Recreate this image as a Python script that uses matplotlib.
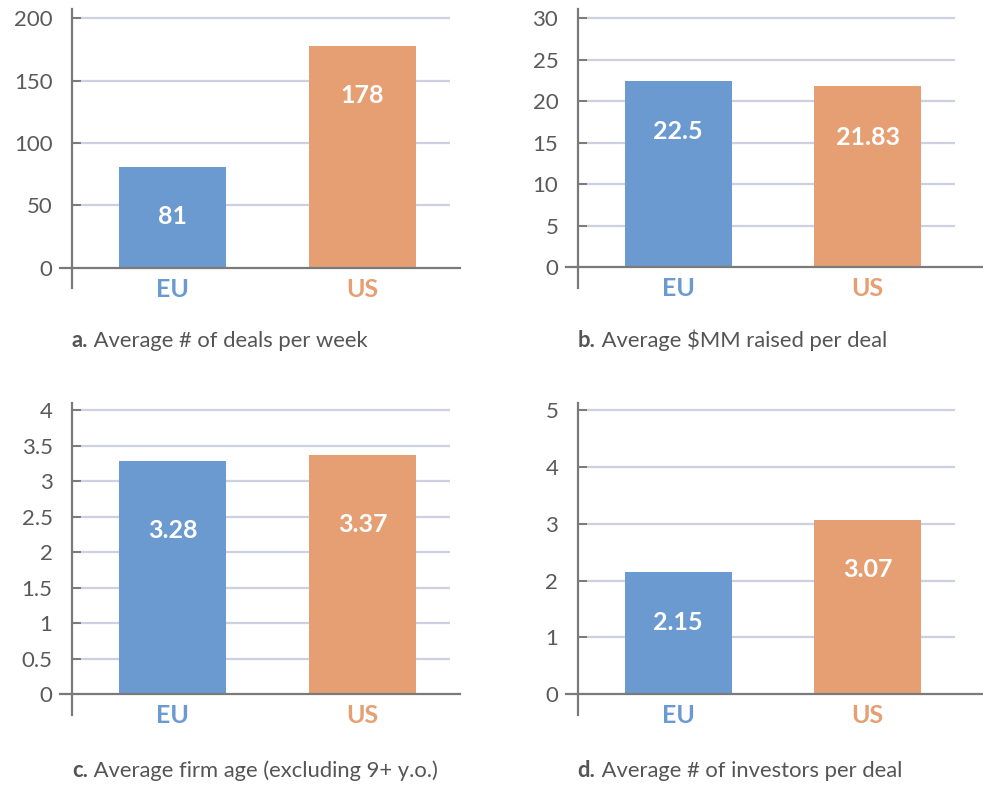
import numpy as np
import matplotlib
matplotlib.use("Agg")
import matplotlib.pyplot as plt
import matplotlib.transforms as mtransforms

plt.rcParams['font.family'] = ['Lato', 'DejaVu Sans']

# dados
categories = ["EU", "US"]
deals_per_week = [81, 178]
mm_raised = [22.5, 21.83]
firm_age = [3.28, 3.37]
investors = [2.15, 3.07]

deals_labels = ["81", "178"]
raised_labels = ["22.5", "21.83"]
age_labels = ["3.28", "3.37"]
investor_labels = ["2.15", "3.07"]

deals_ticks = [0, 50, 100, 150, 200]
raised_ticks = [0, 5, 10, 15, 20, 25, 30]
age_ticks = [0, 0.5, 1, 1.5, 2, 2.5, 3, 3.5, 4]
age_tick_labels = ["0", "0.5", "1", "1.5", "2", "2.5", "3", "3.5", "4"]
investor_ticks = [0, 1, 2, 3, 4, 5]

caption_letters = ["a.", "b.", "c.", "d."]
caption_texts = ["Average # of deals per week",
                 "Average $MM raised per deal",
                 "Average firm age (excluding 9+ y.o.)",
                 "Average # of investors per deal"]

# cores
blue = "#6a9ad0"
orange = "#e69f73"
bar_colors = [blue, orange]
grid_color = "#cdd0e0"
axis_color = "#7a7a7a"
text_color = "#555555"

W, H = 983, 785
fig = plt.figure(figsize=(W / 100, H / 100), dpi=100)


def painel(left, right, top_spine, bottom_spine, top_tick_px, zero_px,
           values, labels, ticks, tick_labels, label_drop, zero_right,
           letter, caption, caption_y):
    ax = fig.add_axes([left / W, 1 - bottom_spine / H,
                       (right - left) / W, (bottom_spine - top_spine) / H])
    # escala vertical a partir dos pixels
    per_px = ticks[-1] / (zero_px - top_tick_px)
    ax.set_ylim(-(bottom_spine - zero_px) * per_px,
                ticks[-1] + (top_tick_px - top_spine) * per_px)
    ax.set_xlim(-0.53, 1.46)

    for t in ticks[1:]:
        ax.axhline(t, color=grid_color, lw=1.6, zorder=1)

    x = np.arange(len(categories))
    ax.bar(x, values, width=0.565, color=bar_colors, zorder=2)

    trans = mtransforms.blended_transform_factory(ax.transAxes, ax.transData)
    ax.plot([-12 / (right - left), zero_right], [0, 0], color=axis_color,
            lw=1.6, transform=trans, clip_on=False, zorder=3)

    for i, (v, lab) in enumerate(zip(values, labels)):
        ax.annotate(lab, xy=(i, v), xytext=(0, -label_drop),
                    textcoords='offset points', ha='center', va='center',
                    color='white', fontsize=18, fontweight='bold', zorder=4)
        ax.annotate(categories[i], xy=(i, 0), xytext=(0, -15.5),
                    textcoords='offset points', ha='center', va='center',
                    color=bar_colors[i], fontsize=18, fontweight='bold',
                    annotation_clip=False)

    for s in ["top", "right", "bottom"]:
        ax.spines[s].set_visible(False)
    ax.spines["left"].set_color(axis_color)
    ax.spines["left"].set_linewidth(1.6)
    ax.set_xticks([])
    ax.set_yticks(ticks)
    ax.set_yticklabels(tick_labels)
    ax.tick_params(axis='y', direction='in', length=6.5, width=1.4,
                   color=axis_color, pad=14, labelsize=16,
                   labelcolor="#5a5a5a")

    t1 = fig.text(left / W, 1 - caption_y / H, letter, ha='left',
                  va='baseline', fontsize=15.8, fontweight='bold',
                  color=text_color)
    ax.annotate(" " + caption, xy=(1, 0), xycoords=t1, ha='left',
                va='bottom', fontsize=15.8, color=text_color,
                annotation_clip=False)
    return ax


painel(72, 450, 9.5, 288, 18.3, 267.7, deals_per_week, deals_labels,
       deals_ticks, [str(t) for t in deals_ticks], 36, 1 + 10 / 378,
       caption_letters[0], caption_texts[0], 347)
painel(577.7, 955, 9.5, 288, 18.3, 267.3, mm_raised, raised_labels,
       raised_ticks, [str(t) for t in raised_ticks], 37, (983 - 577.7) / 377.3,
       caption_letters[1], caption_texts[1], 347)
painel(72, 450, 402.7, 715, 410, 694.3, firm_age, age_labels,
       age_ticks, age_tick_labels, 50, 1 + 10 / 378,
       caption_letters[2], caption_texts[2], 777)
painel(577.7, 955, 402.7, 715, 410, 694.3, investors, investor_labels,
       investor_ticks, [str(t) for t in investor_ticks], 36, (983 - 577.7) / 377.3,
       caption_letters[3], caption_texts[3], 777)

fig.savefig("out.png", dpi=100)
